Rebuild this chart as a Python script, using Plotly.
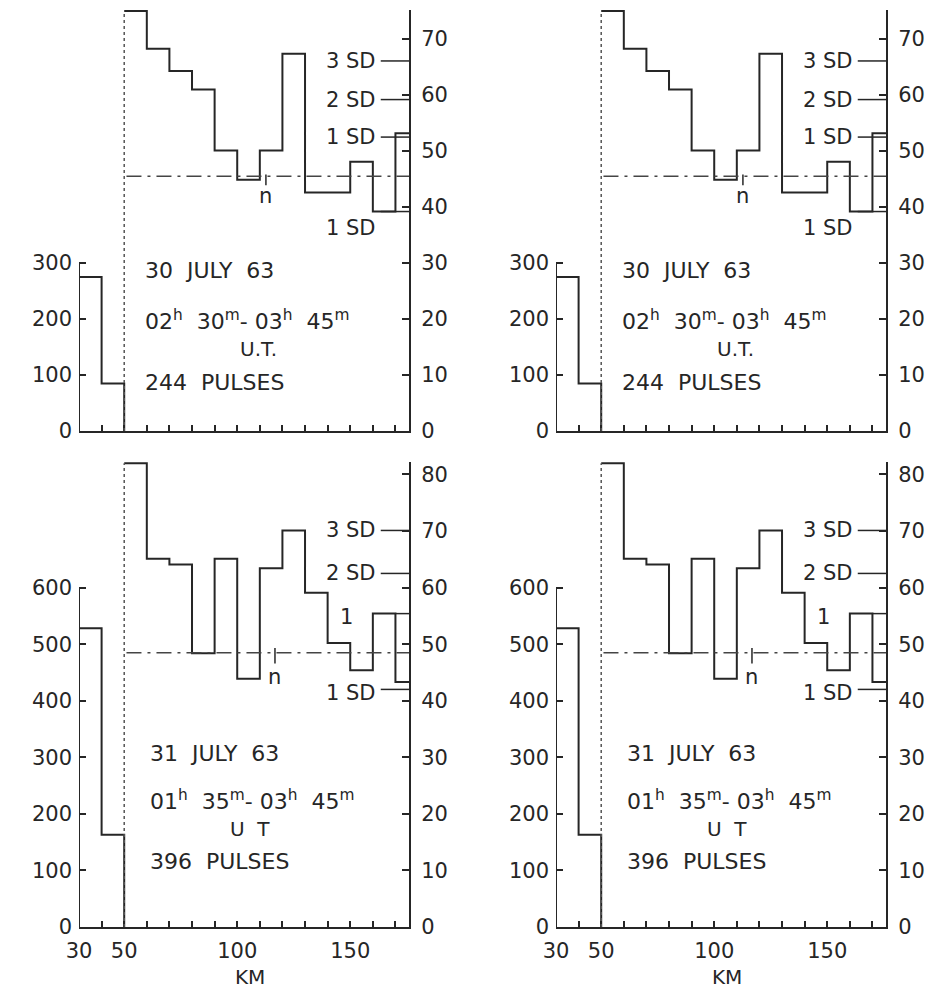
import plotly.graph_objects as go

# ---------------- data ----------------
near_edges = [30, 40, 50]
far_edges = [50, 60, 70, 80, 90, 100, 110, 120, 130, 140, 150, 160, 170, 176]

NB = "\u00a0"
jul30_near = [275, 85]
jul30_far = [75.0, 68.3, 64.3, 61.0, 50.1, 44.9, 50.1, 67.4, 42.6, 42.6, 48.1, 39.2, 53.2]
jul30_mean = 45.5
jul30_sd_levels = [66.1, 59.2, 52.5, 39.2]
jul30_sd_labels = ["3 SD", "2 SD", "1 SD", "1 SD"]
jul30_text = [f"30{NB} JULY{NB} 63",
              f"02<sup>h</sup>{NB} 30<sup>m</sup>-{NB}03<sup>h</sup>{NB} 45<sup>m</sup>",
              "U.T.", f"244{NB} PULSES"]

jul31_near = [528, 163]
jul31_far = [82.0, 65.1, 64.1, 48.4, 65.1, 43.9, 63.4, 70.1, 59.1, 50.2, 45.4, 55.4, 43.3]
jul31_mean = 48.5
jul31_sd_levels = [70.1, 62.5, 55.4, 42.0]
jul31_sd_labels = ["3 SD", "2 SD", "1", "1 SD"]
jul31_text = [f"31{NB} JULY{NB} 63",
              f"01<sup>h</sup>{NB} 35<sup>m</sup>-{NB}03<sup>h</sup>{NB} 45<sup>m</sup>",
              f"U{NB} T", f"396{NB} PULSES"]

left_ticks_top = [0, 100, 200, 300]
left_ticks_bot = [0, 100, 200, 300, 400, 500, 600]
right_ticks_top = [0, 10, 20, 30, 40, 50, 60, 70]
right_ticks_bot = [0, 10, 20, 30, 40, 50, 60, 70, 80]
x_ticks = [30, 40, 50, 60, 70, 80, 90, 100, 110, 120, 130, 140, 150, 160, 170]
x_labels = {30: "30", 50: "50", 100: "100", 150: "150"}

# ---------------- layout geometry ----------------
W, H = 938, 991
INK = "#262626"
FONT = "DejaVu Sans"
col_px = [(79, 409), (556, 886)]
rows = [
    dict(px=(10, 431), rmax=75.2, near=jul30_near, far=jul30_far, mean=jul30_mean,
         sdl=jul30_sd_levels, sdt=jul30_sd_labels, text=jul30_text, lticks=left_ticks_top,
         rticks=right_ticks_top, xlab=False,
         sd_text_y=[66.1, 59.2, 52.5, 36.2], text_y=[28.6, 19.8, 14.6, 8.6],
         nbar_x=112.7, nbar=(45.8, 43.9), n_y=41.9, ut_x=109.2, tx=58.3),
    dict(px=(462, 927), rmax=82.2, near=jul31_near, far=jul31_far, mean=jul31_mean,
         sdl=jul31_sd_levels, sdt=jul31_sd_labels, text=jul31_text, lticks=left_ticks_bot,
         rticks=right_ticks_bot, xlab=True,
         sd_text_y=[70.1, 62.5, 54.8, 41.3], text_y=[30.7, 22.5, 17.3, 11.5],
         nbar_x=116.7, nbar=(49.3, 46.6), n_y=44.2, ut_x=105.7, tx=60.5),
]


def steps(edges, counts):
    xs, ys = [], []
    for i, c in enumerate(counts):
        xs += [edges[i], edges[i + 1]]
        ys += [c, c]
    return xs, ys


fig = go.Figure()
shapes, annos = [], []
layout = {}
p = 0
for r, row in enumerate(rows):
    for c, (x0p, x1p) in enumerate(col_px):
        p += 1
        xa = "x" if p == 1 else f"x{p}"
        yl_n = 2 * p - 1
        yr_n = 2 * p
        yl = "y" if yl_n == 1 else f"y{yl_n}"
        yr = f"y{yr_n}"
        xdom = [x0p / W, x1p / W]
        ydom = [(H - row["px"][1]) / H, (H - row["px"][0]) / H]
        rmax = row["rmax"]

        nx, ny = steps(near_edges, row["near"])
        nx = [near_edges[0]] + nx + [near_edges[-1]]
        ny = [0] + ny + [0]
        fig.add_trace(go.Scatter(x=nx, y=ny, xaxis=xa, yaxis=yl, mode="lines",
                                 line=dict(color=INK, width=2), showlegend=False, hoverinfo="skip"))
        fx, fy = steps(far_edges, row["far"])
        fig.add_trace(go.Scatter(x=fx, y=fy, xaxis=xa, yaxis=yr, mode="lines",
                                 line=dict(color=INK, width=2), showlegend=False, hoverinfo="skip"))

        xkey = "xaxis" if p == 1 else f"xaxis{p}"
        ylkey = "yaxis" if yl_n == 1 else f"yaxis{yl_n}"
        yrkey = f"yaxis{yr_n}"
        tick_font = dict(family=FONT, size=21, color=INK)
        layout[xkey] = dict(domain=xdom, anchor=yl, range=[30, 176], showgrid=False, zeroline=False,
                            automargin=False,
                            showline=True, linecolor=INK, linewidth=2, ticks="inside", ticklen=6,
                            tickwidth=1.5, tickcolor=INK, tickvals=x_ticks,
                            ticktext=[x_labels.get(t, "") if row["xlab"] else "" for t in x_ticks],
                            tickfont=tick_font, ticklabelstandoff=4)
        layout[ylkey] = dict(domain=ydom, anchor=xa, range=[0, rmax * 10], showgrid=False, zeroline=False,
                             automargin=False,
                             showline=False, ticks="inside", ticklen=7, tickwidth=1.5, tickcolor=INK,
                             tickvals=row["lticks"], tickfont=tick_font, ticklabelstandoff=6)
        layout[yrkey] = dict(domain=ydom, anchor=xa, overlaying=yl, side="right", range=[0, rmax],
                             automargin=False,
                             showgrid=False, zeroline=False, showline=True, linecolor=INK, linewidth=2,
                             ticks="inside", ticklen=7, tickwidth=1.5, tickcolor=INK,
                             tickvals=row["rticks"], tickfont=tick_font, ticklabelstandoff=6)

        shapes.append(dict(type="line", xref=xa, yref=yl, x0=30, x1=30, y0=0, y1=row["lticks"][-1],
                           line=dict(color=INK, width=2)))
        shapes.append(dict(type="line", xref=xa, yref=yr, x0=50, x1=50, y0=0, y1=row["far"][0],
                           line=dict(color="#555555", width=1.5, dash="dot")))
        shapes.append(dict(type="line", xref=xa, yref=yr, x0=51, x1=176, y0=row["mean"], y1=row["mean"],
                           line=dict(color="#444444", width=1.5, dash="longdashdot")))
        shapes.append(dict(type="line", xref=xa, yref=yr, x0=row["nbar_x"], x1=row["nbar_x"],
                           y0=row["nbar"][0], y1=row["nbar"][1], line=dict(color=INK, width=1.5)))
        annos.append(dict(xref=xa, yref=yr, x=row["nbar_x"], y=row["n_y"], text="n", showarrow=False,
                          font=dict(family=FONT, size=21, color=INK), xanchor="center", yanchor="middle"))
        for lvl, lab, ty in zip(row["sdl"], row["sdt"], row["sd_text_y"]):
            if lab == "1":
                annos.append(dict(xref=xa, yref=yr, x=144.5, y=ty, text=lab, showarrow=False,
                                  font=dict(family=FONT, size=21, color=INK), xanchor="left", yanchor="middle"))
                shapes.append(dict(type="line", xref=xa, yref=yr, x0=170, x1=176, y0=lvl, y1=lvl,
                                   line=dict(color=INK, width=1.5)))
            else:
                annos.append(dict(xref=xa, yref=yr, x=162.5, y=ty, text=lab, showarrow=False,
                                  font=dict(family=FONT, size=21, color=INK), xanchor="right", yanchor="middle"))
                shapes.append(dict(type="line", xref=xa, yref=yr, x0=163.5, x1=176, y0=lvl, y1=lvl,
                                   line=dict(color=INK, width=1.5)))
        t = row["text"]
        ty = row["text_y"]
        for i in (0, 1, 3):
            annos.append(dict(xref=xa, yref=yr, x=row["tx"], y=ty[i], text=t[i], showarrow=False,
                              font=dict(family=FONT, size=22, color=INK), xanchor="left", yanchor="middle"))
        annos.append(dict(xref=xa, yref=yr, x=row["ut_x"], y=ty[2], text=t[2], showarrow=False,
                          font=dict(family=FONT, size=20, color=INK), xanchor="center", yanchor="middle"))
        if row["xlab"]:
            annos.append(dict(xref=xa, yref="paper", x=105.7, y=(H - 977) / H, text="KM", showarrow=False,
                              font=dict(family=FONT, size=20, color=INK), xanchor="center", yanchor="middle"))

fig.update_layout(width=W, height=H, margin=dict(l=0, r=0, t=0, b=0, pad=0, autoexpand=False),
                  paper_bgcolor="white",
                  plot_bgcolor="rgba(0,0,0,0)", shapes=shapes, annotations=annos, showlegend=False,
                  **layout)
fig.write_html("out.html")
